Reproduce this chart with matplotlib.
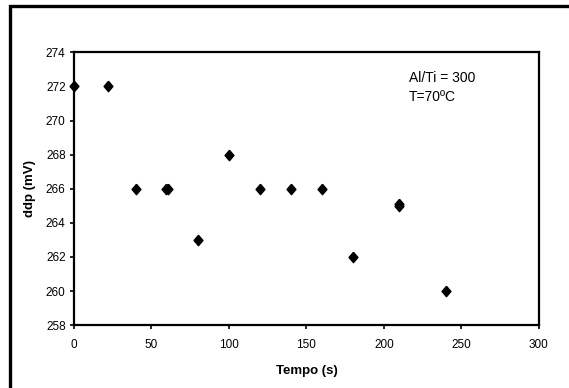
import matplotlib
matplotlib.use("Agg")
import matplotlib.pyplot as plt
from matplotlib.patches import Rectangle

tempo = [0, 22, 40, 59.5, 60.5, 80, 100, 120, 140, 160, 180, 210, 210, 240]
ddp = [272, 272, 266, 266, 266, 263, 268, 266, 266, 266, 262, 265, 265.1, 260]
xticks = [0, 50, 100, 150, 200, 250, 300]
yticks = [258, 260, 262, 264, 266, 268, 270, 272, 274]

plt.rcParams['font.family'] = ['Liberation Sans', 'DejaVu Sans']

fig = plt.figure(figsize=(5.69, 3.88), dpi=100)
ax = fig.add_axes([0.130, 0.162, 0.817, 0.703])

diamond = [(0, 1), (0.85, 0), (0, -1), (-0.85, 0), (0, 1)]
ax.plot(tempo, ddp, linestyle='none', marker=diamond, markersize=7.5,
        color='black', clip_on=False, zorder=5)

ax.set_xlim(0, 300)
ax.set_ylim(258, 274)
ax.set_xticks(xticks)
ax.set_yticks(yticks)
ax.tick_params(axis='both', direction='out', length=3, width=1.2,
               labelsize=8.5, colors='black', pad=3)
ax.tick_params(axis='x', pad=7)
for s in ax.spines.values():
    s.set_linewidth(1.6)
    s.set_color('black')

ax.set_xlabel('Tempo (s)', fontsize=9.5, fontweight='bold', labelpad=10)
ax.set_ylabel('ddp (mV)', fontsize=9.5, fontweight='bold', labelpad=7)

ax.text(0.72, 0.906, 'Al/Ti = 300', transform=ax.transAxes, fontsize=10,
        va='center', ha='left')
ax.text(0.72, 0.836, 'T=70ºC', transform=ax.transAxes, fontsize=10,
        va='center', ha='left')

fig.patches.append(Rectangle((10 / 569, -0.05), 1.2, 1.0 - 6 / 388 + 0.05,
                             transform=fig.transFigure, fill=False,
                             edgecolor='black', linewidth=2.4))

fig.savefig('out.png', dpi=100, facecolor='white')
